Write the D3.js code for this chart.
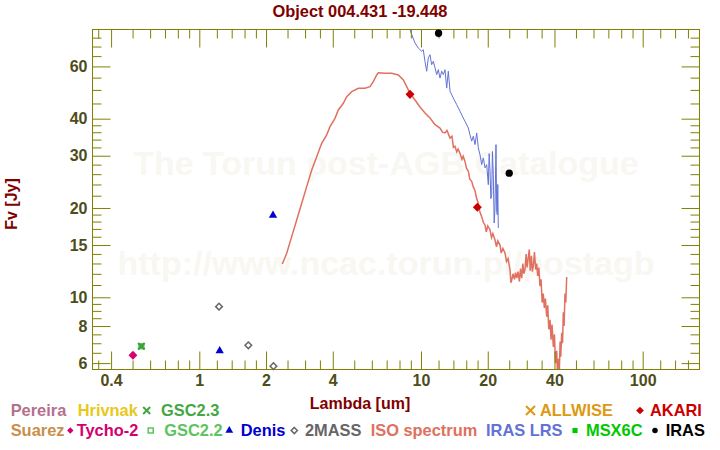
<!DOCTYPE html>
<html><head><meta charset="utf-8">
<script src="https://cdn.jsdelivr.net/npm/d3@7"></script>
<style>
body{margin:0;background:#fff}
svg{display:block}
text{font-family:"Liberation Sans",Arial,Helvetica,sans-serif;font-weight:bold}
</style>
</head><body>
<svg id="c" width="720" height="450"></svg>
<script>
// ---------- data ----------
const xMajor=[0.4,1,2,4,10,20,40,100];
const xMajorLabels=["0.4","1","2","4","10","20","40","100"];
const xMinor=[0.35,0.5,0.6,0.7,0.8,0.9,1.2,1.4,1.6,1.8,2.5,3,3.5,5,6,7,8,9,12,14,16,18,25,30,35,50,60,70,80,90,120,140,160];
const yMajor=[6,8,10,15,20,30,40,60];
const yMajorLabels=["6","8","10","15","20","30","40","60"];
const yMinor=[6.5,7,7.5,8.5,9,9.5,11,12,13,14,16,17,18,19,22,24,26,28,32,34,36,38,45,50,55,65,70,75];

const isoLambda=[2.368,2.479,2.611,2.750,2.897,3.051,3.214,3.385,3.565,3.755,3.886,4.093,4.236,4.462,4.623,4.869,5.215,5.589,5.888,6.093,6.313,6.419,6.880,7.376,7.899,8.321,8.620,8.920,9.397,9.897,10.42,10.98,11.57,
12.18,12.5,12.83,13.1,13.52,13.8,14.0,14.23,14.5,14.7,14.99,15.3,15.5,15.79,16.05,16.35,16.6,16.93,17.2,17.52,17.8,18.14,18.4,18.78,19.1,19.45,19.7,20.0,20.48,20.8,21.1,21.57,21.9,22.2,22.72,23.0,23.4,23.93,24.3,24.7,25.2,25.45,25.65,26.0,26.4,26.7,27.02,27.4,27.8,28.1,28.47,28.8,29.1,29.45,29.8,30.1,30.48,30.8,31.1,31.5,31.8,32.1,32.5,32.9,33.26,33.6,34.0,34.42,34.8,35.2,35.62,36.0,36.4,36.9,37.3,37.7,38.19,38.6,39.0,39.53,40.0,40.4,40.94,41.3,41.63,42.0,42.4,42.7,43.12,43.5,43.84,44.2,44.62,45.0,45.41];
const isoFlux=[12.95,14.07,16.01,18.22,20.74,23.60,26.86,29.78,33.04,35.24,37.58,40.11,42.80,45.08,47.45,49.32,50.63,50.63,51.26,53.29,56.13,57.15,56.89,56.89,56.13,54.00,51.26,48.71,46.24,43.79,41.80,40.21,38.17,
37.2,36.0,35.8,36.5,34.4,34.9,32.0,32.3,30.9,31.6,30.6,29.2,29.9,28.7,27.2,26.6,25.0,24.6,23.6,22.9,21.6,20.7,19.5,18.7,17.9,17.5,16.6,17.4,16.9,15.9,16.4,15.6,14.8,15.5,15.0,14.1,14.6,14.1,13.2,13.5,12.4,11.2,11.4,12.0,11.5,12.1,11.6,12.2,11.3,12.5,11.6,13.0,12.0,12.4,14.0,12.6,13.6,14.5,12.3,13.8,12.2,12.7,14.2,12.4,13.0,11.8,12.6,10.9,11.5,9.6,10.3,9.2,9.9,8.6,9.4,7.8,8.4,7.2,8.1,6.8,7.5,6.0,6.6,5.4,6.2,5.3,7.1,6.3,7.6,7.0,8.9,8.0,10.3,9.6,11.7];

const lrsLambda=[8.84,9.08,9.40,9.72,10.07,10.24,10.42,10.61,10.79,10.98,11.17,11.36,11.57,11.77,11.97,12.18,12.40,12.61,12.83,13.06,13.28,13.52,13.99,14.49,14.99,15.51,15.79,16.35,16.63,16.93,17.22,17.52,17.83,18.14,18.46,18.78,19.10,19.45,19.79,20.12,20.3,20.48,20.66,20.84,21.0,21.19,21.38,21.57,21.79,21.95,22.09,22.2,22.32];
const lrsFlux=[81.6,76.8,71.95,69.2,67.5,68.3,62.4,57.8,64.1,65.7,60.8,62.4,59.3,56.3,58.5,54.8,57.8,56.3,58.5,50.7,57.8,49.5,46.96,44.6,42.4,40.2,39.2,37.2,35.3,33.6,34.9,32.7,35.8,31.9,30.2,28.0,29.5,27.3,28.0,23.96,30.5,26.6,21.5,22.2,31.0,25.9,17.8,20.0,32.7,19.5,18.98,24.0,17.13];

const irasLambda=[12,25], irasFlux=[77.6,26.2];
const akariLambda=[8.92,17.95], akariFlux=[48.3,20.1];
const tychoLambda=[0.502], tychoFlux=[6.38];
const gsc22Lambda=[0.548], gsc22Flux=[6.84];
const gsc23Lambda=[0.548], gsc23Flux=[6.84];
const denisLambda=[1.236,2.15], denisFlux=[6.6,18.9];
const tmassLambda=[1.227,1.664,2.16], tmassFlux=[9.3,6.89,5.86];

const legendNames=["Pereira","Hrivnak","GSC2.3","ALLWISE","AKARI","Suarez","Tycho-2","GSC2.2","Denis","2MASS","ISO spectrum","IRAS LRS","MSX6C","IRAS"];
const legendSymbols=[null,null,"times","times","diamond",null,"diamond","square","triangle","diamondOpen",null,null,"squareFill","circle"];

// ---------- layout / style ----------
const legendColors=["#b5708d","#e8c81c","#44a744","#dc9a12","#cc0000","#c8904a","#d4006e","#5cc45c","#0000d0","#666666","#e07060","#6272d6","#00c800","#000000"];
const legendRow=[0,0,0,0,0,1,1,1,1,1,1,1,1,1];
const legendTextX=[10.7,77.7,161,540,650,10.7,76.7,164.3,240.7,305,370.7,486,586,665.7];
const legendSymX=[null,null,146.7,530.5,640,null,70.3,150.7,229.3,294.3,null,null,575,655];
const legendSymSize=[0,0,34,55,38,0,26,32,26,24,0,0,34,24];
const rowBase=[416,436];

const svg=d3.select("#c");
const L=92.5,R=699.5,T=29.5,B=369.5;
const x=d3.scaleLog().domain([0.3298,180.4]).range([L,R]);
const y=d3.scaleLog().domain([5.71,79.9]).range([B,T]);
const axC="#808000", lbC="#4d4d1a", titleC="#800000";

// watermark
svg.append("text").attr("x",386).attr("y",175).attr("text-anchor","middle")
  .style("font-size","34px").attr("fill","#f9f7f2").text("The Torun post-AGB Catalogue");
svg.append("text").attr("x",386).attr("y",275).attr("text-anchor","middle")
  .style("font-size","34px").attr("fill","#f9f7f2").text("http://www.ncac.torun.pl/postagb");

// clip
svg.append("clipPath").attr("id","clip").append("rect")
  .attr("x",L).attr("y",T).attr("width",R-L).attr("height",B-T);

const isoData=isoLambda.map((l,i)=>[l,isoFlux[i]]);
const lrsData=lrsLambda.map((l,i)=>[l,lrsFlux[i]]);
const line=d3.line().x(d=>x(d[0])).y(d=>y(d[1]));
const gc=svg.append("g").attr("clip-path","url(#clip)");
gc.append("path").datum(isoData).attr("d",line).attr("fill","none").attr("stroke","#e07060").attr("stroke-width",1.5);
gc.append("path").datum(lrsData).attr("d",line).attr("fill","none").attr("stroke","#6272d6").attr("stroke-width",1);

// axes
function styleAxis(g){
  g.select(".domain").remove();
  g.selectAll(".tick line").attr("stroke",axC);
  g.selectAll(".tick text").attr("fill",lbC).style("font-size","16px")
    .style("font-family",'"Liberation Sans",Arial,sans-serif').style("font-weight","bold");
}
const fx=(d,i)=>xMajorLabels[i], fy=(d,i)=>yMajorLabels[i];
svg.append("g").attr("transform",`translate(0,${B})`)
  .call(d3.axisBottom(x).tickValues(xMajor).tickFormat(fx).tickSize(-18).tickSizeOuter(0).tickPadding(5)).call(styleAxis);
svg.append("g").attr("transform",`translate(0,${B})`)
  .call(d3.axisBottom(x).tickValues(xMinor).tickFormat("").tickSize(-9).tickSizeOuter(0)).call(styleAxis);
svg.append("g").attr("transform",`translate(0,${T})`)
  .call(d3.axisTop(x).tickValues(xMajor).tickFormat("").tickSize(-18).tickSizeOuter(0)).call(styleAxis);
svg.append("g").attr("transform",`translate(0,${T})`)
  .call(d3.axisTop(x).tickValues(xMinor).tickFormat("").tickSize(-9).tickSizeOuter(0)).call(styleAxis);
svg.append("g").attr("transform",`translate(${L},0)`)
  .call(d3.axisLeft(y).tickValues(yMajor).tickFormat(fy).tickSize(-18).tickSizeOuter(0).tickPadding(5)).call(styleAxis);
svg.append("g").attr("transform",`translate(${L},0)`)
  .call(d3.axisLeft(y).tickValues(yMinor).tickFormat("").tickSize(-9).tickSizeOuter(0)).call(styleAxis);
svg.append("g").attr("transform",`translate(${R},0)`)
  .call(d3.axisRight(y).tickValues(yMajor).tickFormat("").tickSize(-18).tickSizeOuter(0)).call(styleAxis);
svg.append("g").attr("transform",`translate(${R},0)`)
  .call(d3.axisRight(y).tickValues(yMinor).tickFormat("").tickSize(-9).tickSizeOuter(0)).call(styleAxis);

svg.append("rect").attr("x",L).attr("y",T).attr("width",R-L).attr("height",B-T)
  .attr("fill","none").attr("stroke",axC).attr("stroke-width",1);

// markers
function sym(type,size){
  const m={times:d3.symbolTimes,diamond:d3.symbolDiamond2,diamondOpen:d3.symbolDiamond2,square:d3.symbolSquare2,squareFill:d3.symbolSquare2,triangle:d3.symbolTriangle,circle:d3.symbolCircle};
  return d3.symbol().type(m[type]).size(size)();
}
function drawMarker(g,type,cx,cy,color,size){
  const p=g.append("path").attr("d",sym(type,size)).attr("transform",`translate(${cx},${cy})`);
  if(type==="times"||type==="diamondOpen"||type==="square"){
    p.attr("fill","none").attr("stroke",color).attr("stroke-width",type==="times"?2:1.5);
  } else p.attr("fill",color);
}
const gm=svg.append("g");
function series(lam,flux,type,color,size){
  lam.forEach((l,i)=>drawMarker(gm,type,x(l),y(flux[i]),color,size));
}
series(gsc22Lambda,gsc22Flux,"squareFill","#5cc45c",52);
series(gsc23Lambda,gsc23Flux,"times","#3e9e3e",30);
series(tychoLambda,tychoFlux,"diamond","#d4006e",50);
series(denisLambda,denisFlux,"triangle","#0000d0",30);
series(tmassLambda,tmassFlux,"diamondOpen","#666666",28);
series(akariLambda,akariFlux,"diamond","#cc0000",52);
series(irasLambda,irasFlux,"circle","#000000",42);

// titles
svg.append("text").attr("x",360).attr("y",17).attr("text-anchor","middle")
  .style("font-size","16.4px").attr("fill",titleC).text("Object 004.431 -19.448");
svg.append("text").attr("x",360).attr("y",409).attr("text-anchor","middle")
  .style("font-size","16px").attr("fill",titleC).text("Lambda [um]");
svg.append("text").attr("transform","translate(17,204) rotate(-90)").attr("text-anchor","middle")
  .style("font-size","16px").attr("fill",titleC).text("Fv [Jy]");

// legend
legendNames.forEach((n,i)=>{
  const base=rowBase[legendRow[i]];
  svg.append("text").attr("x",legendTextX[i]).attr("y",base)
    .style("font-size","16.4px").attr("fill",legendColors[i]).text(n);
  if(legendSymbols[i]){
    drawMarker(svg,legendSymbols[i],legendSymX[i],base-5.5,legendColors[i],legendSymSize[i]);
  }
});
</script>
</body></html>
